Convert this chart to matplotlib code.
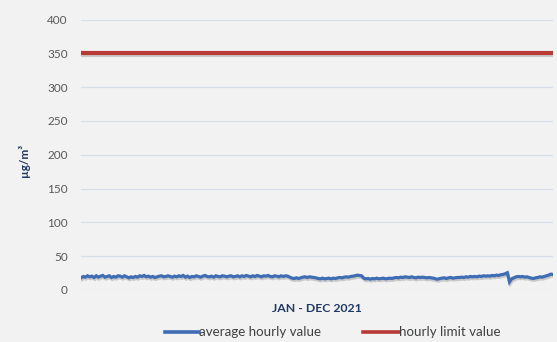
import matplotlib
matplotlib.use("Agg")
import matplotlib.pyplot as plt
import matplotlib.patheffects as pe
from matplotlib.lines import Line2D
import numpy as np

# Hourly concentration trace across the year, µg/m³
avg_hourly = [
    # January - mid May
    18, 20, 19, 21, 19.5, 20.5, 18.5, 21, 19, 20.5, 21.5, 19, 20, 21, 18.5, 20, 19, 21, 20.5, 19,
    21, 19.5, 18, 19.5, 18.5, 20, 19, 21, 20, 21.5, 19.5, 20.5, 19, 20, 18.5, 19.5, 20.5, 21, 19.5, 20,
    21, 20, 19, 20.5, 19.5, 21, 20, 21.5, 19, 20.5, 18.5, 20, 19.5, 21, 20, 19, 20.5, 21.5, 20, 19.5,
    20.5, 19, 21, 20, 19.5, 21, 20.5, 19.5, 20.5, 21, 19.5, 20, 21, 19.5,
    # mid May - June
    21, 20, 21.5, 20.5, 19.5, 21, 20, 21.5, 20.5, 19.5, 21, 20.5, 21.5, 20, 19.5, 21, 20.5, 19.5, 21,
    20, 21, 20.5, 19,
    17.5, 17, 18, 17, 18,
    19, 19.5, 18.5, 19.5, 19, 18.5, 18,
    17, 16.5, 17.5, 16.5, 17, 17.5, 16.5, 17.5, 17, 18, 18.5, 18,
    19, 19.5, 19, 20, 20.5, 21, 22, 21.5, 21,
    17.5, 16.5, 17, 16, 17, 16.5, 17.5, 16.5, 17, 17.5, 16.5, 17, 17.5, 17,
    18, 18.5, 18, 19, 18.5, 19.5, 19, 18.5, 19.5, 18.5, 18, 19, 18.5, 19, 18.5, 18,
    18.5, 18, 17.5, 16.5, 16, 17, 17.5, 18, 17, 18, 18.5, 17.5, 18, 18.5,
    18.5, 19, 18.5, 19.5, 19, 20, 19.5, 20, 19.5, 20.5, 20, 21, 20.5, 21, 20.5, 21.5, 21, 22, 21.5,
    22.5, 23, 24,
    25.5, 12,
    16.5, 18, 19.5, 20, 19.5, 20, 19, 19.5, 18.5, 17.5, 17, 18, 18.5, 19.5, 19, 20,
    21, 22, 23.5, 23,
]
limit_value = 350
y_ticks = [0, 50, 100, 150, 200, 250, 300, 350, 400]
x_title = "JAN - DEC 2021"
y_title = "µg/m³"
legend_labels = ["average hourly value", "hourly limit value"]

BG = "#F2F2F2"
BLUE = "#3F6DB3"
RED = "#B93A35"
NAVY = "#1F3864"
GRAY = "#595959"
TXT = "#404040"
GRID = "#D5DEE9"

plt.rcParams["font.family"] = ["Lato", "DejaVu Sans"]

W, H = 557, 342
fig = plt.figure(figsize=(W / 100, H / 100), dpi=100, facecolor=BG)
ax = fig.add_axes([81 / W, 1 - 290 / H, 472 / W, 270.5 / H])
ax.set_facecolor(BG)

x = np.arange(len(avg_hourly))
shadow = [pe.SimpleLineShadow(offset=(0.6, -1.4), shadow_color="#7F7F7F", alpha=0.35), pe.Normal()]

ax.plot(x, avg_hourly, color=BLUE, lw=2.3, solid_joinstyle="miter",
        path_effects=shadow, zorder=3)
ax.plot([x[0], x[-1]], [limit_value, limit_value], color=RED, lw=3.0,
        path_effects=shadow, zorder=3)

ax.set_xlim(x[0], x[-1])
ax.set_ylim(0, 400)
ax.set_yticks(y_ticks)
ax.set_xticks([])
ax.grid(axis="y", color=GRID, lw=0.9)
ax.set_axisbelow(True)
for s in ax.spines.values():
    s.set_visible(False)
ax.tick_params(axis="y", length=0, pad=9.5, labelsize=8.5, labelcolor=GRAY)

fig.text(317 / W, 1 - 308 / H, x_title, ha="center", va="center",
         fontsize=8.8, fontweight="bold", color=NAVY)
fig.text(24 / W, 1 - 160 / H, y_title, ha="center", va="center",
         rotation=90, fontsize=8.5, fontweight="bold", color=NAVY)

# legend row: line sample followed by its label
ly = 1 - 332 / H
for (x0, x1), color, label in zip([(165, 199), (363, 399)], [BLUE, RED], legend_labels):
    fig.add_artist(Line2D([x0 / W, x1 / W], [ly, ly], color=color, lw=2.6,
                          transform=fig.transFigure))
    fig.text(x1 / W, ly, label, ha="left", va="center", fontsize=9.6, color=TXT)

fig.savefig("out.png", dpi=100, facecolor=BG)
